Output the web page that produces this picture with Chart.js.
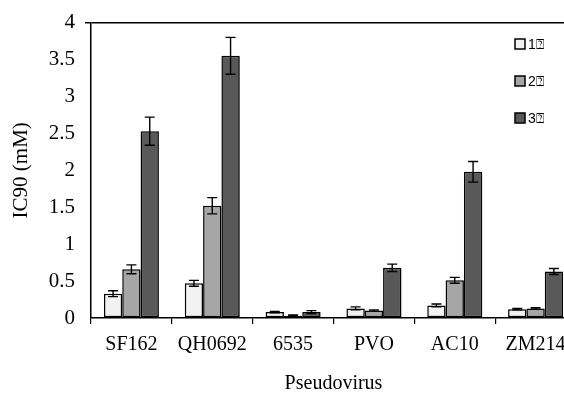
<!DOCTYPE html>
<html>
<head>
<meta charset="utf-8">
<script src="https://cdn.jsdelivr.net/npm/chart.js@4/dist/chart.umd.min.js"></script>
<style>
  html, body { margin: 0; padding: 0; background: #fff; overflow: hidden; }
  #wrap { position: absolute; left: 0; top: 0; width: 580px; height: 396px; }
</style>
</head>
<body>
<div id="wrap"><canvas id="ic90Chart" width="580" height="396"></canvas></div>
<script>
// data
const viruses = ["SF162", "QH0692", "6535", "PVO", "AC10", "ZM214"];
const seriesNames = ["1\u2370", "2\u2370", "3\u2370"];
const group1 = [0.33, 0.47, 0.08, 0.13, 0.17, 0.12];
const group2 = [0.66, 1.52, 0.03, 0.10, 0.51, 0.13];
const group3 = [2.53, 3.55, 0.08, 0.68, 1.98, 0.63];
const err1 = [0.04, 0.04, 0.01, 0.02, 0.02, 0.01];
const err2 = [0.06, 0.11, 0.01, 0.01, 0.04, 0.01];
const err3 = [0.19, 0.25, 0.02, 0.05, 0.14, 0.04];
const yTicks = [0, 0.5, 1, 1.5, 2, 2.5, 3, 3.5, 4];

const fills = ["#f2f2f2", "#a6a6a6", "#595959"];
const errors = [err1, err2, err3];

// soft drop shadow under the bars, like the office chart
const barShadow = {
  id: "barShadow",
  beforeDatasetsDraw(chart) {
    const ctx = chart.ctx;
    ctx.save();
    ctx.shadowColor = "rgba(0,0,0,0.35)";
    ctx.shadowBlur = 2;
    ctx.shadowOffsetX = 1.5;
    ctx.shadowOffsetY = 1.5;
  },
  afterDatasetsDraw(chart) {
    chart.ctx.restore();
  }
};

// error bars, positioned from the bar elements and the y scale
const errorBars = {
  id: "errorBars",
  afterDatasetsDraw(chart) {
    const ctx = chart.ctx;
    const y = chart.scales.y;
    ctx.save();
    ctx.strokeStyle = "#000";
    ctx.lineWidth = 1.4;
    chart.data.datasets.forEach((ds, i) => {
      const meta = chart.getDatasetMeta(i);
      meta.data.forEach((bar, j) => {
        const v = ds.data[j];
        const e = errors[i][j];
        const top = y.getPixelForValue(v + e);
        const bot = y.getPixelForValue(v - e);
        ctx.beginPath();
        ctx.moveTo(bar.x, top);
        ctx.lineTo(bar.x, bot);
        ctx.moveTo(bar.x - 5, top);
        ctx.lineTo(bar.x + 5, top);
        ctx.moveTo(bar.x - 5, bot);
        ctx.lineTo(bar.x + 5, bot);
        ctx.stroke();
      });
    });
    ctx.restore();
  }
};

// legend drawn inside the plot, top right
const boxLegend = {
  id: "boxLegend",
  afterDraw(chart) {
    const ctx = chart.ctx;
    ctx.save();
    ctx.font = "14px 'Liberation Sans', Arial, sans-serif";
    ctx.textBaseline = "middle";
    chart.data.datasets.forEach((ds, i) => {
      const cy = 44 + i * 37;
      ctx.fillStyle = ds.backgroundColor;
      ctx.strokeStyle = "#000";
      ctx.lineWidth = 1.5;
      ctx.fillRect(515, cy - 5, 10, 10);
      ctx.strokeRect(515, cy - 5, 10, 10);
      ctx.fillStyle = "#000";
      ctx.fillText(ds.label, 528, cy + 1);
    });
    ctx.restore();
  }
};

const serif = "'Liberation Serif', 'Times New Roman', serif";

new Chart(document.getElementById("ic90Chart"), {
  type: "bar",
  data: {
    labels: viruses,
    datasets: [group1, group2, group3].map((vals, i) => ({
      label: seriesNames[i],
      data: vals,
      backgroundColor: fills[i],
      borderColor: "#000",
      borderWidth: 1.5,
      borderSkipped: false,
      categoryPercentage: 0.68,
      barPercentage: 1.0
    }))
  },
  options: {
    responsive: false,
    animation: false,
    layout: { padding: { top: 19, right: 4, left: 0, bottom: 0 } },
    plugins: {
      legend: { display: false },
      tooltip: { enabled: false }
    },
    scales: {
      x: {
        offset: true,
        grid: {
          offset: true,
          drawOnChartArea: false,
          drawTicks: true,
          tickLength: 6,
          color: "#000",
          lineWidth: 1.2
        },
        border: { color: "#000", width: 1.5 },
        ticks: {
          color: "#000",
          padding: 9,
          maxRotation: 0,
          font: { family: serif, size: 20 }
        },
        title: {
          display: true,
          text: "Pseudovirus",
          color: "#000",
          font: { family: serif, size: 20 },
          padding: { top: 0, bottom: 0 }
        },
        afterFit(scale) { scale.height = 78; }
      },
      y: {
        min: 0,
        max: 4,
        afterBuildTicks(scale) { scale.ticks = yTicks.map(v => ({ value: v })); },
        grid: {
          drawTicks: true,
          tickLength: 6,
          color: ctx => (ctx.tick && ctx.tick.value === 4 ? "#000" : "rgba(0,0,0,0)"),
          lineWidth: 1.5
        },
        border: { color: "#000", width: 1.5 },
        ticks: {
          color: "#000",
          padding: 10,
          font: { family: serif, size: 21 },
          callback: v => String(v)
        },
        title: {
          display: true,
          text: "IC90 (mM)",
          color: "#000",
          font: { family: serif, size: 21 },
          padding: { top: 9, bottom: 0 }
        },
        afterFit(scale) { scale.width = 91; }
      }
    }
  },
  plugins: [barShadow, errorBars, boxLegend]
});
</script>
</body>
</html>
